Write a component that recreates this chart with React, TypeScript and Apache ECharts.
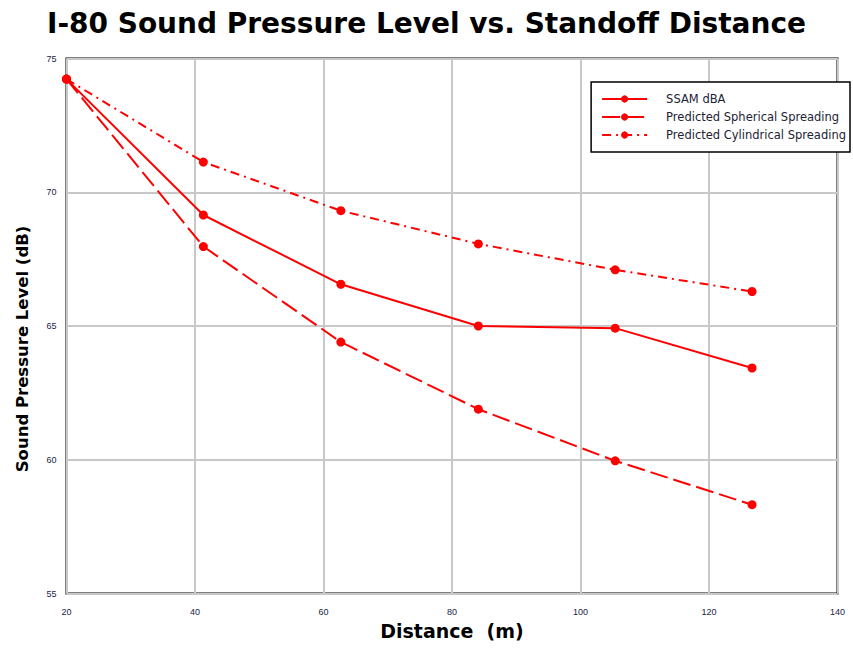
import React, { useEffect, useRef } from "react";
import * as echarts from "echarts";

const distances = [20, 41.3, 62.7, 84.1, 105.4, 126.7];
const ssam = [74.23, 69.15, 66.56, 65.0, 64.92, 63.43];
const spherical = [74.23, 67.97, 64.4, 61.89, 59.96, 58.32];
const cylindrical = [74.23, 71.13, 69.31, 68.07, 67.1, 66.29];
const seriesNames = ["SSAM dBA", "Predicted Spherical Spreading", "Predicted Cylindrical Spreading"];

const pair = (ys: number[]) => distances.map((x, i) => [x, ys[i]]);

export default function App() {
  const ref = useRef<HTMLDivElement>(null);
  useEffect(() => {
    if (!ref.current) return;
    const chart = echarts.init(ref.current, null, { renderer: "svg" });
    const base = {
      type: "line",
      symbol: "circle",
      symbolSize: 9,
      itemStyle: { color: "#ff0000" },
    };
    chart.setOption({
      animation: false,
      backgroundColor: "#fff",
      title: {
        text: "I-80 Sound Pressure Level vs. Standoff Distance",
        left: "center",
        top: 4,
        textStyle: { fontFamily: "DejaVu Sans", fontWeight: "bold", fontSize: 28, color: "#000" },
      },
      legend: {
        orient: "vertical",
        right: 3,
        top: 82,
        backgroundColor: "#fff",
        borderColor: "#000",
        borderWidth: 1.5,
        borderRadius: 0,
        padding: [11, 4, 11, 10],
        itemGap: 6,
        itemWidth: 45,
        itemHeight: 9,
        textStyle: { fontFamily: "DejaVu Sans", fontSize: 11.5, color: "#223", padding: [0, 0, 0, 14] },
        data: seriesNames,
      },
      grid: { left: 66.5, right: 15.5, top: 58.5, bottom: 54.5, show: true, borderColor: "#000", borderWidth: 2 },
      graphic: [
        {
          type: "text",
          x: 22,
          y: 349,
          rotation: Math.PI / 2,
          style: {
            text: "Sound Pressure Level (dB)",
            fontFamily: "DejaVu Sans",
            fontWeight: "bold",
            fontSize: 16.5,
            fill: "#000",
            align: "center",
            verticalAlign: "middle",
          },
        },
      ],
      xAxis: {
        type: "value",
        min: 20,
        max: 140,
        interval: 20,
        name: "Distance  (m)",
        nameLocation: "middle",
        nameGap: 27,
        nameTextStyle: { fontFamily: "DejaVu Sans", fontWeight: "bold", fontSize: 19, color: "#000" },
        axisLine: { show: false },
        axisTick: { show: false },
        axisLabel: { fontFamily: "Liberation Sans", fontSize: 9, color: "#224", margin: 14 },
        splitLine: { show: true, lineStyle: { color: "#c8c8c8", width: 2 } },
      },
      yAxis: {
        type: "value",
        min: 55,
        max: 75,
        interval: 5,
        axisLine: { show: false },
        axisTick: { show: false },
        axisLabel: { fontFamily: "Liberation Sans", fontSize: 9, color: "#224", margin: 10 },
        splitLine: { show: true, lineStyle: { color: "#c8c8c8", width: 2 } },
      },
      series: [
        { ...base, name: seriesNames[0], data: pair(ssam), lineStyle: { color: "#ff0000", width: 2, type: "solid" } },
        { ...base, name: seriesNames[1], data: pair(spherical), lineStyle: { color: "#ff0000", width: 2, type: [18, 6] } },
        { ...base, name: seriesNames[2], data: pair(cylindrical), lineStyle: { color: "#ff0000", width: 2, type: [9, 5, 2, 5] } },
      ],
    });
    return () => chart.dispose();
  }, []);
  return <div ref={ref} style={{ width: 853, height: 648, position: "absolute", left: 0, top: 0 }} />;
}
